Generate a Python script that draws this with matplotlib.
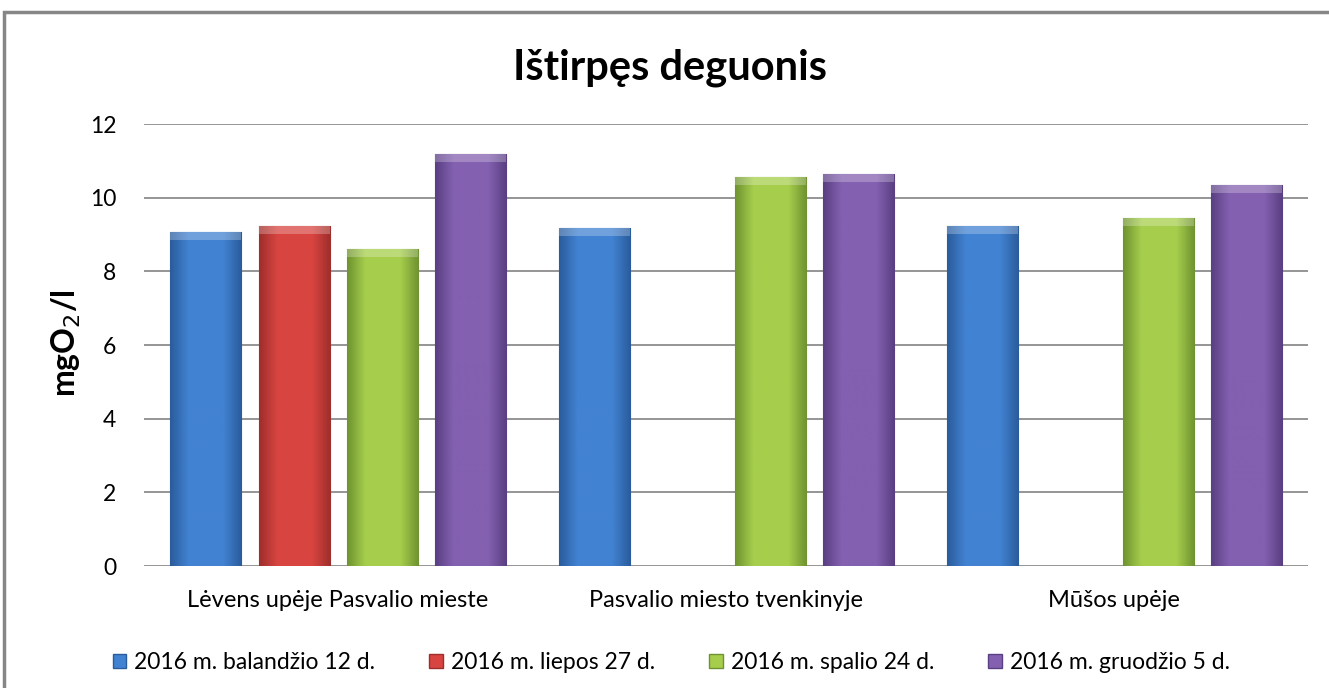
import matplotlib.pyplot as plt
import numpy as np
from matplotlib.patches import Rectangle, Patch
from matplotlib.colors import LinearSegmentedColormap

plt.rcParams['font.family'] = ['Lato', 'DejaVu Sans']

kategorijos = ['Lėvens upėje Pasvalio mieste', 'Pasvalio miesto tvenkinyje', 'Mūšos upėje']
serijos = ['2016 m. balandžio 12 d.', '2016 m. liepos 27 d.',
           '2016 m. spalio 24 d.', '2016 m. gruodžio 5 d.']
balandis = [9.07, 9.18, 9.23]
liepa = [9.24, np.nan, np.nan]
spalis = [8.62, 10.57, 9.45]
gruodis = [11.2, 10.64, 10.35]
reiksmes = [balandis, liepa, spalis, gruodis]
spalvos = ['#4282D2', '#D84541', '#A6CE4C', '#8360B0']
tamsios = ['#2A5C9C', '#9E2E2B', '#6F9330', '#5A3F82']

fig = plt.figure(figsize=(13.29, 6.88), dpi=100)
ax = fig.add_axes([0.1084, 0.1773, 0.876, 0.6424])

x = np.arange(len(kategorijos))
plotis = 0.183
zingsnis = 0.227

for i, (vals, sp, ts) in enumerate(zip(reiksmes, spalvos, tamsios)):
    poz = x + (i - 1.5) * zingsnis
    bars = ax.bar(poz, vals, width=plotis, color=sp, edgecolor=ts, linewidth=0.8, zorder=3)
    cmap = LinearSegmentedColormap.from_list('g', [ts, sp, sp, sp, ts])
    for b in bars:
        h = b.get_height()
        if np.isnan(h):
            continue
        x0 = b.get_x()
        w = b.get_width()
        im = ax.imshow(np.linspace(0, 1, 64).reshape(1, -1), cmap=cmap, aspect='auto',
                       extent=[x0, x0 + w, 0, h], zorder=3.5)
        im.set_clip_path(b)
        # sviesesnis virsus
        ax.add_patch(Rectangle((x0, h - 0.22), w, 0.22, facecolor='white', alpha=0.25,
                               edgecolor='none', zorder=4))

ax.set_xlim(-0.5, 2.5)
ax.set_ylim(0, 12)
ax.set_yticks(range(0, 13, 2))
ax.yaxis.grid(True, color='#8C8C8C', linewidth=1.3)
ax.set_axisbelow(True)
for s in ax.spines.values():
    s.set_visible(False)
ax.tick_params(axis='y', length=0, labelsize=16.5, pad=20)
ax.tick_params(axis='x', length=0, labelsize=17, pad=17)
ax.set_xticks(x)
ax.set_xticklabels(kategorijos)
ax.set_ylabel('mgO$_2$/l', fontsize=23, fontweight='bold', va='center')
ax.yaxis.set_label_coords(-0.067, 0.505)

fig.text(0.504, 0.901, 'Ištirpęs deguonis', ha='center', va='center',
         fontsize=30, fontweight='bold')

rankenos = [Patch(facecolor=sp, edgecolor=ts) for sp, ts in zip(spalvos, tamsios)]
fig.legend(rankenos, serijos, loc='center', bbox_to_anchor=(0.505, 0.037), ncol=4,
           frameon=False, fontsize=16.5, handlelength=0.6, handleheight=0.6,
           handletextpad=0.35, columnspacing=2.35)

# remelis tik virsuje ir kaireje (kita dalis uz paveikslo ribu)
fig.patches.append(Rectangle((4 / 1329, -20 / 688), 1400 / 1329, 696 / 688,
                             transform=fig.transFigure, fill=False,
                             edgecolor='#868686', linewidth=2.5))

fig.savefig('out.png', dpi=100)
